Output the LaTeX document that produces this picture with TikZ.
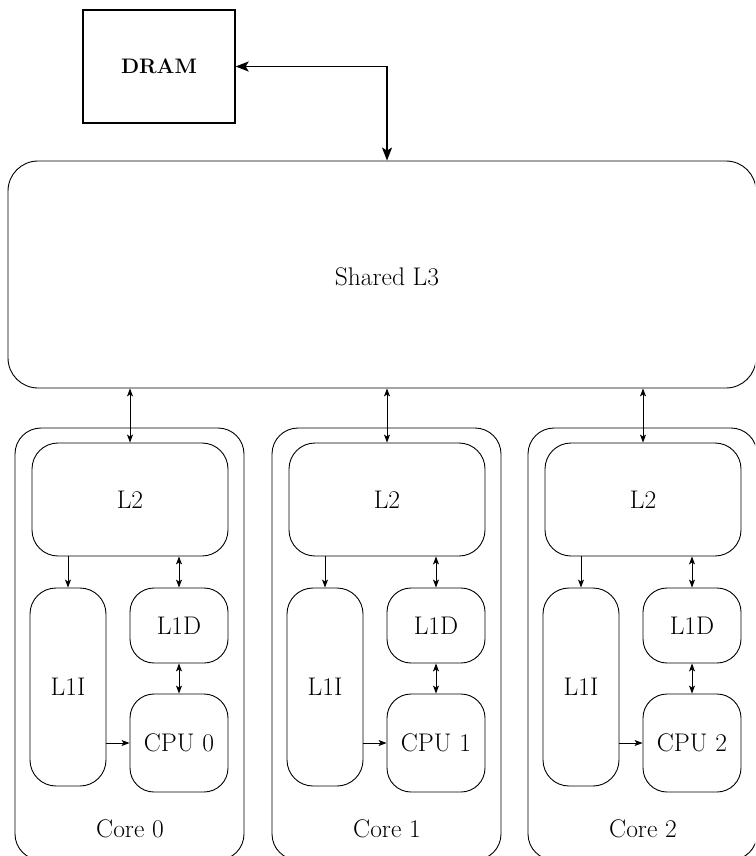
\documentclass[tikz,border=0pt]{standalone}
\usetikzlibrary{arrows.meta}
\begin{document}
\begin{tikzpicture}[x=1pt,y=-1pt,
  every node/.style={font=\fontsize{25.5}{28}\selectfont},
  box/.style={draw, line width=0.9pt, rounded corners=#1, inner sep=0pt},
  thin/.style={line width=0.9pt, {Stealth[length=8pt,width=6pt,inset=2pt]}-{Stealth[length=8pt,width=6pt,inset=2pt]}},
  one/.style={line width=0.9pt, -{Stealth[length=8pt,width=6pt,inset=2pt]}},
  thick/.style={line width=1.8pt, {Stealth[length=13pt,width=10pt,inset=3pt]}-{Stealth[length=13pt,width=10pt,inset=3pt]}}]
\useasboundingbox (0,0) rectangle (755,856);
\clip (0,0) rectangle (755,856);
% DRAM
\node[draw, line width=1.3pt, minimum width=152pt, minimum height=113pt, inner sep=0pt,
      font=\fontsize{21}{24}\selectfont\bfseries] (dram) at (159,66.5) {DRAM};
% Shared L3
\node[box=30pt, minimum width=748pt, minimum height=227pt] (l3) at (382,274.5) {};
\node (l3t) at (387,277) {Shared L3};
\coordinate (bend) at (387,66.5);
\draw[thick] (dram.east) -- (bend) -- (bend |- l3.north);
% Cores
\foreach \i/\x in {0/0,1/257,2/513}{
  \node[box=26pt, minimum width=229pt, minimum height=432pt] (core\i) at (129.5+\x,644) {};
  \node (corel\i) at (130+\x,829) {Core \i};
  \node[box=26pt, minimum width=196pt, minimum height=113pt] (l2\i) at (130+\x,499.5) {L2};
  \node[box=26pt, minimum width=76pt, minimum height=198pt] (l1i\i) at (68+\x,687) {L1I};
  \node[box=24pt, minimum width=98pt, minimum height=75pt] (l1d\i) at (179+\x,625.5) {L1D};
  \node[box=24pt, minimum width=98pt, minimum height=98pt] (cpu\i) at (179+\x,743) {CPU \i};
  \draw[thin] (l3.south -| l2\i.north) -- (l2\i.north);
  \draw[one] (l2\i.south -| l1i\i.north) -- (l1i\i.north);
  \draw[thin] (l2\i.south -| l1d\i.north) -- (l1d\i.north);
  \draw[thin] (l1d\i.south) -- (cpu\i.north);
  \draw[one] (l1i\i.east |- cpu\i.west) -- (cpu\i.west);
}
\end{tikzpicture}
\end{document}
